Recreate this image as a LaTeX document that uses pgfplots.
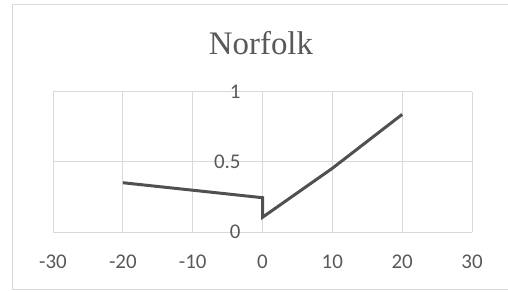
\documentclass[border=0pt]{standalone}
\usepackage{pgfplots}
\pgfplotsset{compat=1.18}
\usepackage{fontspec}
\setmainfont{Carlito}
\newfontfamily\titlefont{Liberation Serif}
\definecolor{gridc}{HTML}{D9D9D9}
\definecolor{txtc}{HTML}{595959}
\definecolor{linec}{HTML}{505050}
\begin{document}
\begin{tikzpicture}
\useasboundingbox (0bp,0bp) rectangle (508bp,292bp);
\draw[gridc, line width=0.9bp] (12bp,2.5bp) rectangle (510bp,287.5bp);
\node[anchor=base, text=txtc, font=\titlefont\fontsize{33}{38}\selectfont, inner sep=0pt] at (261bp,237bp) {Norfolk};
\begin{axis}[
  at={(53bp,60bp)}, anchor=south west,
  scale only axis, width=419bp, height=140bp,
  xmin=-30, xmax=30, ymin=0, ymax=1,
  xtick={-30,-20,...,30}, ytick={0,0.5,1},
  grid=major, grid style={gridc, line width=1bp},
  axis line style={draw=none},
  major tick length=0pt,
  tick label style={text=txtc, font=\fontsize{21}{25}\selectfont},
  /pgf/number format/assume math mode=true,
  xticklabel style={anchor=center, yshift=-30bp},
  yticklabel style={anchor=east, inner sep=0pt, xshift=187.7bp},
  clip=false,
]
\addplot[linec, line width=3bp, line join=miter] coordinates {(-20,0.352) (0,0.245) (0,0.105) (10,0.455) (20,0.84)};
\end{axis}
\end{tikzpicture}
\end{document}
